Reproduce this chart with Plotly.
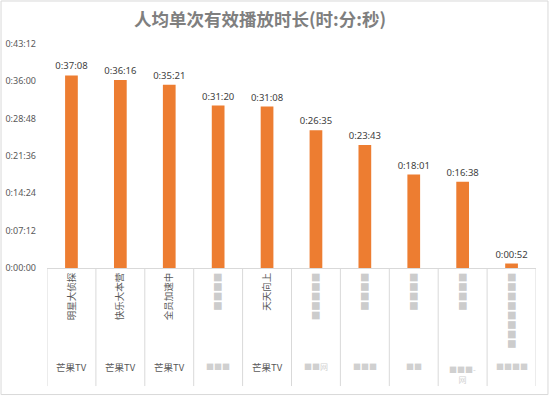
import plotly.graph_objects as go

shows = ["明星大侦探", "快乐大本营", "全员加速中", "■■■■", "天天向上",
         "■■■■■", "■■■■", "■■■■", "■■■■", "■■■■■■■■"]
platforms = ["芒果TV", "芒果TV", "芒果TV", "■■■", "芒果TV",
             "■■网", "■■■", "■■", "■■■-<br>网", "■■■■"]
seconds = [2228, 2176, 2121, 1880, 1868, 1595, 1423, 1081, 998, 52]
tick_vals = [0, 432, 864, 1296, 1728, 2160, 2592]
tick_text = ["0:00:00", "0:07:12", "0:14:24", "0:21:36", "0:28:48", "0:36:00", "0:43:12"]


def fmt(s):
    return f"{s // 3600}:{(s % 3600) // 60:02d}:{s % 60:02d}"


idx = list(range(len(shows)))
fig = go.Figure(go.Bar(
    x=idx, y=seconds, width=0.26,
    marker=dict(color="#ED7D31", line=dict(width=0)),
    text=[fmt(s) for s in seconds], textposition="outside", constraintext="none",
    textfont=dict(size=9.5, color="#404040", family="Noto Sans"),
    cliponaxis=False, hoverinfo="skip",
))

shapes = []
for i in range(len(shows) + 1):
    shapes.append(dict(type="line", xref="x", yref="paper", x0=i - 0.5, x1=i - 0.5,
                       y0=0, y1=-0.527, line=dict(color="#D9D9D9", width=1)))
shapes.append(dict(type="rect", xref="paper", yref="paper", x0=-0.094, x1=1.0245,
                   y0=-0.565, y1=1.192, line=dict(color="#D9D9D9", width=1)))

annotations = []
for i, p in enumerate(platforms):
    gray = "■" in p
    two = "<br>" in p
    annotations.append(dict(x=i, y=-0.44 if not two else -0.475, xref="x", yref="paper",
                            text=p, showarrow=False, yanchor="middle",
                            font=dict(size=9.5 if not gray else 8,
                                      color="#D0D0D0" if gray else "#595959",
                                      family="Noto Sans CJK SC")))

tick_colored = [f"<span style='color:#CCCCCC'>{s}</span>" if "■" in s else s for s in shows]

fig.update_layout(
    width=552, height=398,
    margin=dict(l=47, r=16, t=44, b=130, autoexpand=False),
    paper_bgcolor="white", plot_bgcolor="white",
    title=dict(text="<b>人均单次有效播放时长(时:分:秒)</b>", x=0.471, xanchor="center",
               y=0.95, yanchor="middle", yref="container",
               font=dict(size=17.5, color="#7F7F7F", family="Noto Sans CJK SC")),
    xaxis=dict(range=[-0.5, len(shows) - 0.5], tickvals=idx, ticktext=tick_colored,
               tickangle=-90, showline=True, linecolor="#D9D9D9", showgrid=False,
               zeroline=False, ticks="", automargin=False, fixedrange=True,
               tickfont=dict(size=9.5, color="#595959", family="Noto Sans CJK SC")),
    yaxis=dict(range=[0, 2592], tickvals=tick_vals, ticktext=tick_text, showgrid=False,
               zeroline=False, showline=False, ticks="", ticklabelstandoff=10,
               automargin=False, fixedrange=True,
               tickfont=dict(size=9, color="#595959", family="Noto Sans")),
    shapes=shapes, annotations=annotations, showlegend=False, hovermode=False,
)

fig.write_html("out.html", config={"displayModeBar": False},
               post_script="document.body.style.margin='0';")
